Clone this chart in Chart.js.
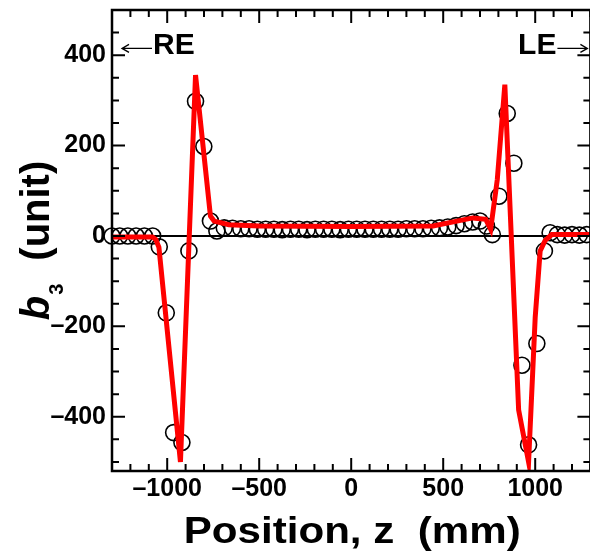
<!DOCTYPE html>
<html>
<head>
<meta charset="utf-8">
<script src="https://cdn.jsdelivr.net/npm/chart.js@4.4.1/dist/chart.umd.min.js"></script>
<style>
  html, body { margin: 0; padding: 0; background: #fff; overflow: hidden; }
  #wrap { width: 600px; height: 552px; }
</style>
</head>
<body>
<div id="wrap"><canvas id="b3Chart" width="600" height="552"></canvas></div>
<script>
// measured harmonic b3 along the magnet axis (circles)
const measZ = [-1300, -1258, -1214, -1169, -1124, -1079, -1043, -1005, -965, -920,
  -882, -846, -801, -765, -730, -690, -645, -600, -555, -510,
  -465, -420, -375, -330, -285, -240, -195, -150, -105, -60,
  -15, 30, 75, 120, 165, 210, 255, 300, 345, 390,
  435, 480, 525, 570, 615, 660, 700, 735, 767, 803,
  848, 884, 928, 964, 1009, 1050, 1081, 1120, 1160, 1200,
  1240, 1280];
const measB3 = [0, 0, 0, 0, 0, 0, -24, -170, -435, -457,
  -33, 298, 198, 33, 11, 18, 17, 16, 16, 15,
  15, 15, 14, 15, 15, 14, 15, 15, 15, 14,
  15, 15, 15, 15, 15, 15, 15, 16, 16, 16,
  17, 18, 20, 23, 27, 31, 33, 22, 3, 88,
  271, 161, -286, -462, -238, -33, 7, 3, 2, 3,
  2, 3];

// calculated b3 (red curve)
const calcZ = [-1300, -1080, -1062, -1045, -1016, -928, -846, -765, -745, -665,
  -500, 0, 445, 660, 731, 758, 794, 835, 910, 964,
  1000, 1027, 1054, 1090, 1300];
const calcB3 = [-2, -2, -8, -25, -143, -500, 356, 44, 33, 25,
  22, 21, 22, 40, 37, 15, 125, 335, -385, -500,
  -180, -33, -10, 3, 3];

const xMajorTicks = [-1000, -500, 0, 500, 1000];
const yMajorTicks = [-400, -200, 0, 200, 400];
const xMinorStep = 100;
const yMinorStep = 50;

const FONT = "'Liberation Sans', Arial, sans-serif";
Chart.defaults.font.family = FONT;
Chart.defaults.color = '#000';

function fmt(v) {
  return v < 0 ? '\u2013' + Math.abs(v) : String(v);
}

// thin arrow, head at (x1, y)
function arrow(ctx, x0, x1, y) {
  const dir = Math.sign(x1 - x0);
  ctx.save();
  ctx.lineWidth = 1.3;
  ctx.beginPath();
  ctx.moveTo(x0, y);
  ctx.lineTo(x1, y);
  ctx.moveTo(x1 - dir * 7, y - 4);
  ctx.lineTo(x1, y);
  ctx.lineTo(x1 - dir * 7, y + 4);
  ctx.stroke();
  ctx.restore();
}

// frame, inward ticks, zero line, titles and end markers
const decorations = {
  id: 'decorations',
  beforeDatasetsDraw(chart) {
    const { ctx, chartArea: a, scales: { y } } = chart;
    const y0 = y.getPixelForValue(0);
    ctx.save();
    ctx.strokeStyle = '#000';
    ctx.lineWidth = 2;
    ctx.beginPath();
    ctx.moveTo(a.left, y0);
    ctx.lineTo(a.right, y0);
    ctx.stroke();
    ctx.restore();
  },
  afterDatasetsDraw(chart) {
    const { ctx, chartArea: a, scales: { x, y } } = chart;
    ctx.save();
    ctx.strokeStyle = '#000';
    ctx.lineWidth = 2.5;
    ctx.strokeRect(a.left, a.top, a.right - a.left, a.bottom - a.top);

    ctx.lineWidth = 2;
    ctx.beginPath();
    for (let v = x.min; v <= x.max; v += xMinorStep) {
      const px = x.getPixelForValue(v);
      const len = xMajorTicks.includes(v) ? 13 : 7;
      ctx.moveTo(px, a.bottom); ctx.lineTo(px, a.bottom - len);
      ctx.moveTo(px, a.top); ctx.lineTo(px, a.top + len);
    }
    for (let v = -500; v <= y.max; v += yMinorStep) {
      const py = y.getPixelForValue(v);
      const len = yMajorTicks.includes(v) ? 13 : 7;
      ctx.moveTo(a.left, py); ctx.lineTo(a.left + len, py);
      ctx.moveTo(a.right, py); ctx.lineTo(a.right - len, py);
    }
    ctx.stroke();

    // end markers
    const ym = y.getPixelForValue(415);
    ctx.fillStyle = '#000';
    ctx.textBaseline = 'middle';
    ctx.font = 'bold 30px ' + FONT;
    ctx.textAlign = 'left';
    arrow(ctx, a.left + 40, a.left + 10, ym);
    ctx.fillText('RE', a.left + 41, ym - 3);
    ctx.textAlign = 'right';
    arrow(ctx, a.right - 33, a.right - 3, ym);
    ctx.fillText('LE', a.right - 34, ym - 3);

    // x title, drawn slightly widened
    ctx.textAlign = 'center';
    ctx.textBaseline = 'alphabetic';
    ctx.save();
    ctx.translate((a.left + a.right) / 2 + 1, 543);
    ctx.scale(1.17, 1);
    ctx.font = 'bold 36px ' + FONT;
    ctx.fillText('Position, z  (mm)', 0, 0);
    ctx.restore();

    // y title: b with subscript 3, then (unit)
    ctx.save();
    ctx.translate(49, (a.top + a.bottom) / 2);
    ctx.rotate(-Math.PI / 2);
    ctx.textAlign = 'left';
    ctx.font = 'italic bold 40px ' + FONT;
    const wb = ctx.measureText('b').width;
    ctx.font = 'bold 20px ' + FONT;
    const w3 = ctx.measureText('3').width;
    ctx.font = 'bold 40px ' + FONT;
    const wu = ctx.measureText('(unit)').width;
    const gap = 24;
    let cx = -(wb + w3 + gap + wu) / 2;
    ctx.font = 'italic bold 40px ' + FONT;
    ctx.fillText('b', cx, 0);
    cx += wb;
    ctx.font = 'bold 20px ' + FONT;
    ctx.fillText('3', cx + 1, 14);
    cx += w3 + gap;
    ctx.font = 'bold 40px ' + FONT;
    ctx.fillText('(unit)', cx, 0);
    ctx.restore();

    ctx.restore();
  }
};

const ctx = document.getElementById('b3Chart').getContext('2d');
new Chart(ctx, {
  type: 'scatter',
  data: {
    datasets: [
      {
        label: 'calculated',
        data: calcZ.map((z, i) => ({ x: z, y: calcB3[i] })),
        showLine: true,
        borderColor: '#ff0000',
        borderWidth: 5,
        pointRadius: 0,
        tension: 0,
        order: 0
      },
      {
        label: 'measured',
        data: measZ.map((z, i) => ({ x: z, y: measB3[i] })),
        showLine: false,
        pointStyle: 'circle',
        pointRadius: 8,
        pointBorderWidth: 1.6,
        pointBorderColor: '#000',
        pointBackgroundColor: 'rgba(0,0,0,0)',
        clip: false,
        order: 1
      }
    ]
  },
  options: {
    responsive: false,
    animation: false,
    layout: { padding: { left: 0, top: 10, right: 4, bottom: 0 } },
    plugins: { legend: { display: false }, tooltip: { enabled: false } },
    scales: {
      x: {
        type: 'linear',
        min: -1300,
        max: 1300,
        grid: { display: false, drawTicks: false },
        border: { display: false },
        afterBuildTicks: s => { s.ticks = xMajorTicks.map(v => ({ value: v })); },
        afterFit: s => { s.height = 81; s.paddingLeft = 0; s.paddingRight = 0; },
        ticks: {
          autoSkip: false,
          maxRotation: 0,
          padding: 3,
          font: { size: 25, weight: 'bold' },
          color: '#000',
          callback: v => fmt(v)
        }
      },
      y: {
        type: 'linear',
        min: -520,
        max: 500,
        grid: { display: false, drawTicks: false },
        border: { display: false },
        afterBuildTicks: s => { s.ticks = yMajorTicks.map(v => ({ value: v })); },
        afterFit: s => { s.width = 112; s.paddingTop = 0; s.paddingBottom = 0; },
        ticks: {
          autoSkip: false,
          padding: 6,
          font: { size: 25, weight: 'bold' },
          color: '#000',
          callback: v => fmt(v)
        }
      }
    }
  },
  plugins: [decorations]
});
</script>
</body>
</html>
